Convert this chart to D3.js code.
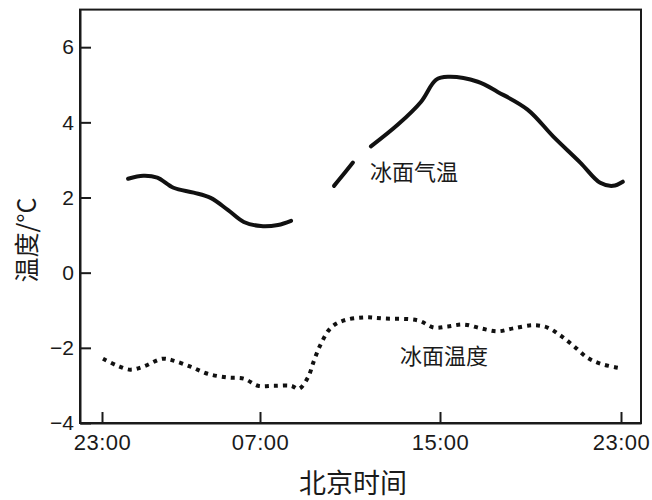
<!DOCTYPE html>
<html>
<head>
<meta charset="utf-8">
<script src="https://cdn.jsdelivr.net/npm/d3@7"></script>
<style>
  body { margin: 0; background: #fff; }
  svg { display: block; }
  .axis text { font-family: "Liberation Sans", Arial, sans-serif; fill: #1a1a1a; }
  .cjk { font-family: "Noto Sans CJK SC", sans-serif; fill: #1a1a1a; }
</style>
</head>
<body>
<svg id="chart" width="652" height="500"></svg>
<script>
// hours after 23:00 (0 = 23:00, 24 = 23:00 next day)
const tickHours = [0, 8, 16, 24];
const tickLabels = ["23:00", "07:00", "15:00", "23:00"];
const yTicks = [-4, -2, 0, 2, 4, 6];

// 冰面气温, drawn in three pieces (gaps in the record)
const airHours1 = [1.32, 2.09, 2.80, 3.62, 4.64, 5.50, 6.37, 7.18, 8.04, 8.80, 9.38];
const airTemp1  = [2.50, 2.58, 2.53, 2.26, 2.13, 1.99, 1.67, 1.35, 1.24, 1.27, 1.38];
const airHours2 = [11.29, 11.73, 12.13];
const airTemp2  = [2.31, 2.63, 2.93];
const airHours3 = [12.93, 14.13, 15.16, 15.82, 16.35, 17.67, 18.55, 19.87, 21.01, 22.20, 23.08, 23.65, 24.09];
const airTemp3  = [3.36, 3.94, 4.55, 5.13, 5.21, 5.08, 4.81, 4.34, 3.62, 2.93, 2.39, 2.31, 2.42];

// 冰面温度
const iceHours = [0.05, 0.76, 1.43, 2.09, 3.06, 3.62, 4.48, 5.35, 6.37, 7.18, 7.90, 8.62, 9.38, 9.73,
  10.13, 10.40, 10.71, 11.16, 11.73, 12.62, 13.51, 15.02, 15.73, 16.35, 17.05, 17.80, 18.55, 19.25,
  20.13, 20.75, 21.32, 21.89, 22.51, 23.08, 23.87];
const iceTemp = [-2.29, -2.47, -2.58, -2.50, -2.29, -2.34, -2.50, -2.69, -2.79, -2.82, -3.01, -3.01, -3.01, -3.09,
  -2.79, -2.34, -1.89, -1.46, -1.27, -1.19, -1.22, -1.27, -1.46, -1.43, -1.38, -1.48, -1.56, -1.48,
  -1.40, -1.46, -1.67, -1.94, -2.26, -2.42, -2.53];

const svg = d3.select("#chart");

// the scanned figure is not evenly spaced, so the time axis is piecewise
const x = d3.scaleLinear()
  .domain([-1, 0, 8, 16, 24, 25])
  .range([80, 102, 260, 440, 621, 641]);
const y = d3.scaleLinear().domain([-4, 7]).range([423, 9.6]);

// frame
svg.append("rect")
  .attr("x", x(-1)).attr("y", y(7))
  .attr("width", x(25) - x(-1)).attr("height", y(-4) - y(7))
  .attr("fill", "none").attr("stroke", "#1a1a1a").attr("stroke-width", 2);

const xAxis = svg.append("g").attr("class", "axis")
  .attr("transform", `translate(0,${y(-4)})`)
  .call(d3.axisBottom(x).tickValues(tickHours)
    .tickFormat((d, i) => tickLabels[i])
    .tickSizeInner(-11).tickSizeOuter(0).tickPadding(11));
xAxis.selectAll("text").attr("font-size", 22).attr("letter-spacing", "0.5px");

const yAxis = svg.append("g").attr("class", "axis")
  .attr("transform", `translate(${x(-1)},0)`)
  .call(d3.axisLeft(y).tickValues(yTicks)
    .tickSizeInner(-11).tickSizeOuter(0).tickPadding(6));
yAxis.selectAll("text").attr("font-size", 21);

svg.selectAll(".axis path").attr("stroke", "#1a1a1a").attr("stroke-width", 2);
svg.selectAll(".axis line").attr("stroke", "#1a1a1a").attr("stroke-width", 2);

const line = d3.line()
  .x(d => x(d[0]))
  .y(d => y(d[1]))
  .curve(d3.curveCatmullRom);

[[airHours1, airTemp1], [airHours2, airTemp2], [airHours3, airTemp3]].forEach(([h, t]) => {
  svg.append("path")
    .datum(d3.zip(h, t))
    .attr("fill", "none")
    .attr("stroke", "#111")
    .attr("stroke-width", 4)
    .attr("stroke-linecap", "round")
    .attr("d", line);
});

svg.append("path")
  .datum(d3.zip(iceHours, iceTemp))
  .attr("fill", "none")
  .attr("stroke", "#111")
  .attr("stroke-width", 4)
  .attr("stroke-dasharray", "4,5")
  .attr("d", line);

// labels
svg.append("text").attr("class", "cjk")
  .attr("x", 370).attr("y", 180).attr("font-size", 22)
  .text("冰面气温");
svg.append("text").attr("class", "cjk")
  .attr("x", 400).attr("y", 364).attr("font-size", 22)
  .text("冰面温度");
svg.append("text").attr("class", "cjk")
  .attr("x", 353).attr("y", 493).attr("font-size", 27)
  .attr("text-anchor", "middle")
  .text("北京时间");
svg.append("text").attr("class", "cjk")
  .attr("transform", "translate(36,240) rotate(-90)")
  .attr("font-size", 25)
  .attr("text-anchor", "middle")
  .text("温度/°C");
</script>
</body>
</html>
